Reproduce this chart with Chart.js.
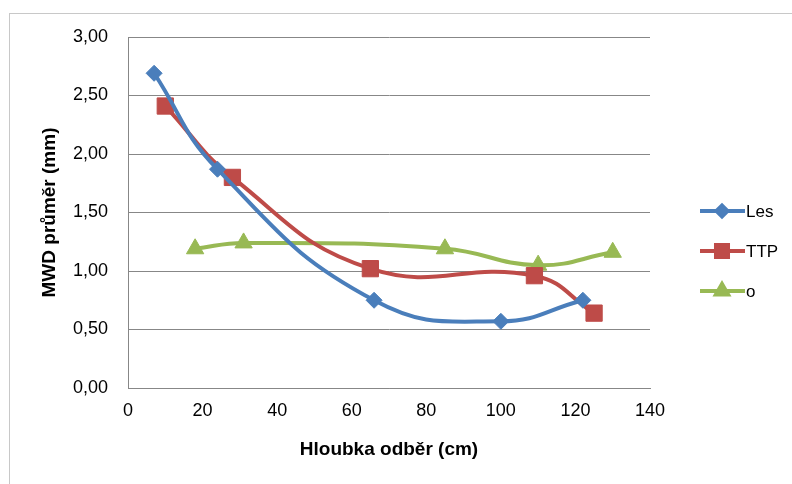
<!DOCTYPE html>
<html>
<head>
<meta charset="utf-8">
<script src="https://cdn.jsdelivr.net/npm/chart.js@4"></script>
<style>
  html, body { margin: 0; padding: 0; background: #fff; overflow: hidden; }
  #frame { position: absolute; left: 9px; top: 13px; width: 820px; height: 520px; border: 1px solid #c8c8c8; }
  #wrap { position: absolute; left: 0; top: 0; width: 792px; height: 484px; }
</style>
</head>
<body>
<div id="frame"></div>
<div id="wrap"><canvas id="chart" width="792" height="484"></canvas></div>
<script>
// --- Data ---
const seriesNames = ['Les', 'TTP', 'o'];
const lesX = [7, 24, 66, 100, 122];
const lesY = [2.69, 1.87, 0.75, 0.57, 0.75];
const ttpX = [10, 28, 65, 109, 125];
const ttpY = [2.41, 1.80, 1.02, 0.96, 0.64];
const oX = [18, 31, 85, 110, 130];
const oY = [1.19, 1.24, 1.19, 1.05, 1.16];
const xTicks = [0, 20, 40, 60, 80, 100, 120, 140];
const yTicks = [0, 0.5, 1, 1.5, 2, 2.5, 3];

const FONT = "'Liberation Sans', Arial, sans-serif";

function toPoints(xs, ys) {
    return xs.map((x, i) => ({ x: x, y: ys[i] }));
}

// --- Legend drawn like Excel (line + marker) ---
const excelLegend = {
    id: 'excelLegend',
    afterDraw(chart) {
        const ctx = chart.ctx;
        const startY = 211;
        const gap = 40;
        chart.data.datasets.forEach((ds, i) => {
            const y = startY + i * gap;
            ctx.save();
            ctx.strokeStyle = ds.borderColor;
            ctx.lineWidth = 4;
            ctx.beginPath();
            ctx.moveTo(700, y);
            ctx.lineTo(745, y);
            ctx.stroke();
            Chart.helpers.drawPoint(ctx, {
                pointStyle: ds.pointStyle,
                radius: ds.legendRadius,
                borderWidth: 1
            }, 722, y);
            ctx.fillStyle = ds.borderColor;
            ctx.fill();
            ctx.fillStyle = '#000';
            ctx.font = '17px ' + FONT;
            ctx.textBaseline = 'middle';
            ctx.fillText(ds.label, 746, y + 1);
            ctx.restore();
        });
    }
};

const ctx = document.getElementById('chart').getContext('2d');

new Chart(ctx, {
    type: 'scatter',
    data: {
        datasets: [{
            label: seriesNames[0],
            data: toPoints(lesX, lesY),
            borderColor: '#4A7EBB',
            backgroundColor: '#4A7EBB',
            pointStyle: 'rectRot',
            pointRadius: 8,
            legendRadius: 5.5,
            order: 1
        }, {
            label: seriesNames[1],
            data: toPoints(ttpX, ttpY),
            borderColor: '#BE4B48',
            backgroundColor: '#BE4B48',
            pointStyle: 'rect',
            pointRadius: 11.5,
            legendRadius: 8.5,
            order: 2
        }, {
            label: seriesNames[2],
            data: toPoints(oX, oY),
            borderColor: '#98B954',
            backgroundColor: '#98B954',
            pointStyle: 'triangle',
            pointRadius: 10,
            legendRadius: 7,
            order: 3
        }]
    },
    options: {
        responsive: false,
        animation: false,
        showLine: true,
        elements: {
            line: { borderWidth: 4, tension: 0.45 },
            point: { borderWidth: 1, hoverRadius: 8 }
        },
        layout: { padding: { left: 38, right: 142, top: 37, bottom: 23 } },
        plugins: {
            legend: { display: false },
            tooltip: { enabled: false }
        },
        scales: {
            x: {
                type: 'linear',
                min: 0,
                max: 140,
                afterBuildTicks: (s) => { s.ticks = xTicks.map(v => ({ value: v })); },
                afterFit: (s) => { s.height = 73; },
                grid: { display: false, drawTicks: false },
                border: { display: true, color: '#878787', width: 1 },
                ticks: {
                    color: '#000',
                    padding: 12,
                    font: { family: FONT, size: 18 }
                },
                title: {
                    display: true,
                    text: 'Hloubka odběr (cm)',
                    color: '#000',
                    padding: { top: 15, bottom: 0 },
                    font: { family: FONT, size: 19, weight: 'bold' }
                }
            },
            y: {
                min: 0,
                max: 3,
                afterBuildTicks: (s) => { s.ticks = yTicks.map(v => ({ value: v })); },
                afterFit: (s) => { s.width = 90; },
                grid: { color: '#878787', lineWidth: 1, drawTicks: false },
                border: { display: true, color: '#878787', width: 1 },
                ticks: {
                    color: '#000',
                    padding: 20,
                    font: { family: FONT, size: 18 },
                    callback: (v) => v.toFixed(2).replace('.', ',')
                },
                title: {
                    display: true,
                    text: 'MWD průměr (mm)',
                    color: '#000',
                    padding: 0,
                    font: { family: FONT, size: 19, weight: 'bold' }
                }
            }
        }
    },
    plugins: [excelLegend]
});
</script>
</body>
</html>
